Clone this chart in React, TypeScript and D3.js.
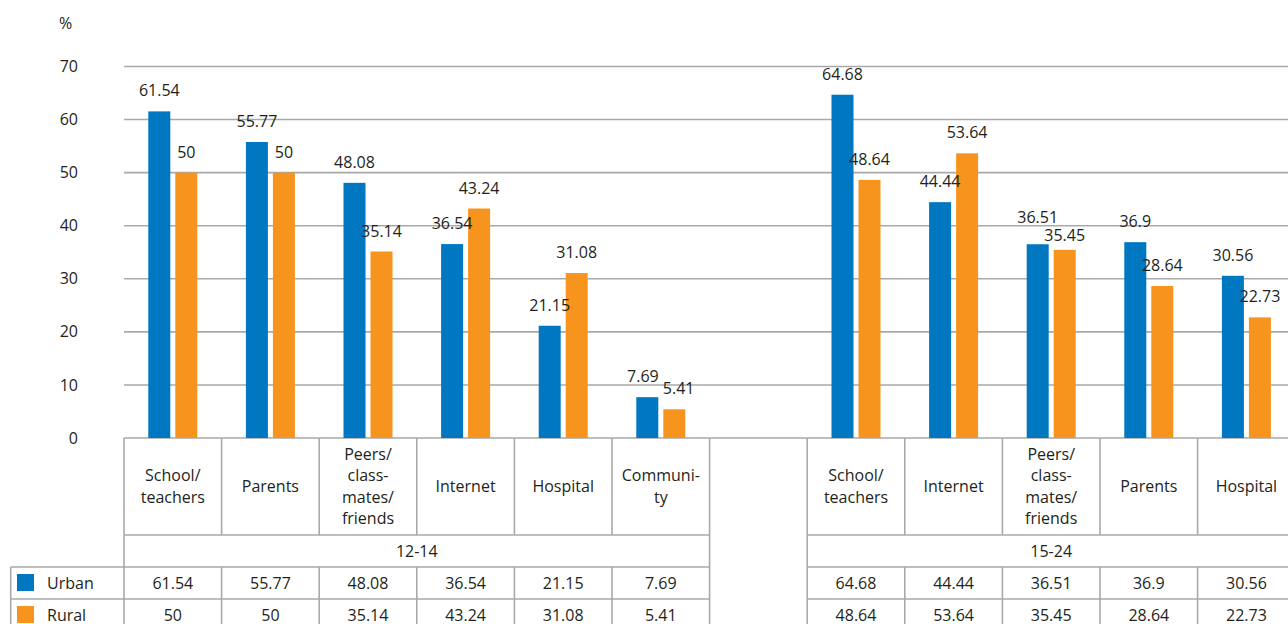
import * as React from 'react';
import * as d3 from 'd3';

const yTicks = [0, 10, 20, 30, 40, 50, 60, 70];
const seriesNames = ['Urban', 'Rural'];
const groupNames = ['12-14', '15-24'];

const youngCategories = ['School/\nteachers', 'Parents', 'Peers/\nclass-\nmates/\nfriends', 'Internet', 'Hospital', 'Communi-\nty'];
const youngUrban = [61.54, 55.77, 48.08, 36.54, 21.15, 7.69];
const youngRural = [50, 50, 35.14, 43.24, 31.08, 5.41];

const olderCategories = ['School/\nteachers', 'Internet', 'Peers/\nclass-\nmates/\nfriends', 'Parents', 'Hospital'];
const olderUrban = [64.68, 44.44, 36.51, 36.9, 30.56];
const olderRural = [48.64, 53.64, 35.45, 28.64, 22.73];

const BLUE = '#0077c1';
const ORANGE = '#f7941e';
const GRID = '#a9a9a9';
const TEXT = '#231f20';
const FONT = '"Open Sans", "Noto Sans", sans-serif';

interface Column {
  key: string;
  label: string;
  values: number[];
}

const groups: { name: string; columns: Column[] }[] = [
  {
    name: groupNames[0],
    columns: youngCategories.map((c, i) => ({ key: `a${i}`, label: c, values: [youngUrban[i], youngRural[i]] })),
  },
  {
    name: groupNames[1],
    columns: olderCategories.map((c, i) => ({ key: `b${i}`, label: c, values: [olderUrban[i], olderRural[i]] })),
  },
];

const App: React.FC = () => {
  const width = 1288;
  const height = 624;
  const plotLeft = 124;
  const step = 97.6;

  const keys = [...groups[0].columns.map((c) => c.key), 'gap', ...groups[1].columns.map((c) => c.key)];
  const x = d3.scaleBand().domain(keys).range([plotLeft, plotLeft + step * keys.length]);
  const bw = x.bandwidth();
  const x1 = d3.scaleBand().domain(seriesNames).range([bw / 2 - 24.5, bw / 2 + 24.5]).paddingInner(5 / 27);
  const y = d3.scaleLinear().domain([0, 70]).range([438, 66.5]);

  const rowCat = y(0);
  const rowGroup = 535;
  const rowUrban = 567;
  const rowRural = 599;
  const rowEnd = 631;

  const fmt = (v: number) => String(v);
  const charW = (s: string) => s.split('').reduce((a, ch) => a + (ch === '.' ? 4.3 : 9.15), 0);

  // label placement with simple overlap handling
  const labels: { x: number; y: number; text: string }[] = [];
  groups.forEach((g) =>
    g.columns.forEach((c) => {
      const pos = c.values.map((v, i) => ({
        x: (x(c.key) || 0) + (x1(seriesNames[i]) || 0) + x1.bandwidth() / 2,
        y: y(v) - 15,
        text: fmt(v),
      }));
      const [a, b] = pos;
      const overlap = a.x + charW(a.text) / 2 - (b.x - charW(b.text) / 2);
      if (overlap > 0 && Math.abs(a.y - b.y) < 16) {
        if (overlap < 8) {
          a.x -= overlap / 2 + 2;
          b.x += overlap / 2 + 2;
        } else {
          const mid = (a.y + b.y) / 2;
          const up = a.y <= b.y ? a : b;
          const down = up === a ? b : a;
          up.y = mid - 9;
          down.y = mid + 9;
        }
      }
      labels.push(...pos);
    })
  );

  const groupRange = (g: { columns: Column[] }) => {
    const x0 = x(g.columns[0].key) || 0;
    const x2 = (x(g.columns[g.columns.length - 1].key) || 0) + bw;
    return [x0, x2];
  };

  return (
    <svg
      width={width}
      height={height}
      style={{ position: 'absolute', left: 0, top: 0, background: '#fff' }}
      fontFamily={FONT}
      fontSize={16}
    >
      {/* grid */}
      <g stroke={GRID} strokeWidth={1.6}>
        {yTicks.map((t) => (
          <line key={t} x1={plotLeft} x2={width} y1={y(t)} y2={y(t)} />
        ))}
      </g>
      <g fill={TEXT} textAnchor="end">
        {yTicks.map((t) => (
          <text key={t} x={78} y={y(t)} dy="0.35em">
            {t}
          </text>
        ))}
      </g>
      <text x={59} y={23} dy="0.35em" fill={TEXT}>
        %
      </text>

      {/* bars */}
      {groups.map((g) =>
        g.columns.map((c) =>
          c.values.map((v, i) => (
            <rect
              key={`${c.key}-${i}`}
              x={(x(c.key) || 0) + (x1(seriesNames[i]) || 0)}
              y={y(v)}
              width={x1.bandwidth()}
              height={y(0) - y(v)}
              fill={i === 0 ? BLUE : ORANGE}
            />
          ))
        )
      )}
      <g fill={TEXT} textAnchor="middle">
        {labels.map((l, i) => (
          <text key={i} x={l.x} y={l.y}>
            {l.text}
          </text>
        ))}
      </g>

      {/* table */}
      {groups.map((g) => {
        const [gx0, gx1] = groupRange(g);
        return (
          <g key={g.name}>
            <g stroke={GRID} strokeWidth={1.6}>
              {[rowGroup, rowUrban, rowRural, rowEnd].map((ry) => (
                <line key={ry} x1={gx0} x2={gx1} y1={ry} y2={ry} />
              ))}
              {[...g.columns.map((c) => x(c.key) || 0), gx1].map((vx, i) => (
                <line
                  key={i}
                  x1={vx}
                  x2={vx}
                  y1={rowCat}
                  y2={i === 0 || i === g.columns.length ? rowEnd : rowGroup}
                />
              ))}
              {g.columns.slice(1).map((c) => (
                <line key={c.key} x1={x(c.key) || 0} x2={x(c.key) || 0} y1={rowUrban} y2={rowEnd} />
              ))}
            </g>
            <g fill={TEXT} textAnchor="middle">
              {g.columns.map((c) => {
                const lines = c.label.split('\n');
                const cx = (x(c.key) || 0) + bw / 2;
                const cy = (rowCat + rowGroup) / 2;
                return (
                  <g key={c.key}>
                    {lines.map((ln, j) => (
                      <text key={j} x={cx} y={cy + (j - (lines.length - 1) / 2) * 21.3} dy="0.35em">
                        {ln}
                      </text>
                    ))}
                    {c.values.map((v, i) => (
                      <text key={i} x={cx} y={(i === 0 ? rowUrban + rowRural : rowRural + rowEnd) / 2} dy="0.35em">
                        {fmt(v)}
                      </text>
                    ))}
                  </g>
                );
              })}
              <text x={(gx0 + gx1) / 2} y={(rowGroup + rowUrban) / 2} dy="0.35em">
                {g.name}
              </text>
            </g>
          </g>
        );
      })}

      {/* legend cells */}
      <g stroke={GRID} strokeWidth={1.6}>
        {[rowUrban, rowRural, rowEnd].map((ry) => (
          <line key={ry} x1={10.7} x2={plotLeft} y1={ry} y2={ry} />
        ))}
        <line x1={10.7} x2={10.7} y1={rowUrban} y2={rowEnd} />
      </g>
      {seriesNames.map((s, i) => {
        const top = i === 0 ? rowUrban : rowRural;
        return (
          <g key={s}>
            <rect x={17} y={top + 7} width={17} height={17} fill={i === 0 ? BLUE : ORANGE} />
            <text x={47} y={top + 16} dy="0.35em" fill={TEXT}>
              {s}
            </text>
          </g>
        );
      })}
    </svg>
  );
};

export default App;
